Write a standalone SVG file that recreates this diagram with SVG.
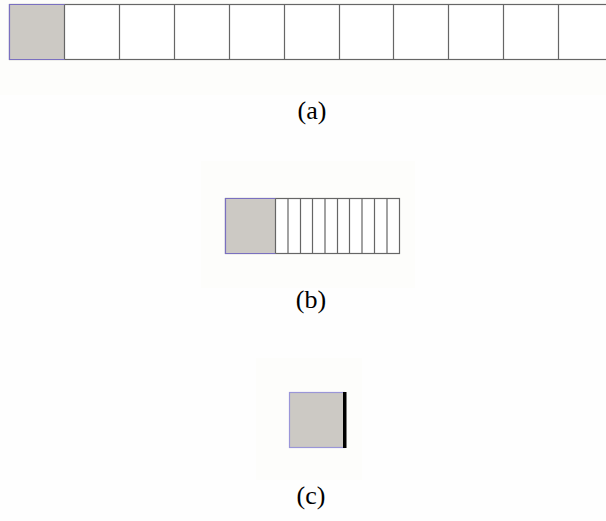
<svg xmlns="http://www.w3.org/2000/svg" width="606" height="521" viewBox="0 0 606 521">
<style>
.cell{fill:#ffffff;stroke:#666666;stroke-width:1.2}
.gray{fill:#ccc9c4}
.blue{fill:none;stroke:#7a70c0;stroke-width:1.2}
.lbl{font-family:"Liberation Serif","DejaVu Serif",serif;font-size:26px;fill:#000;text-anchor:middle}
.halo{fill:#fdfdfb}
</style>
<rect width="606" height="521" fill="#fefefe"/>
<g id="panel-a">
<rect class="halo" x="0" y="0" width="606" height="95"/>
<rect class="cell" x="9.5" y="4.5" width="610" height="55"/>
<rect class="gray" x="9.5" y="4.5" width="55" height="55"/>
<path class="cell" fill="none" d="M64.5 4.5V59.5M119.5 4.5V59.5M174.5 4.5V59.5M229.5 4.5V59.5M284.5 4.5V59.5M339.5 4.5V59.5M393.5 4.5V59.5M448.5 4.5V59.5M503.5 4.5V59.5M558.5 4.5V59.5"/>
<path class="blue" d="M64.5 59.5H9.5V4.5H64.5"/>
<text class="lbl" x="312" y="119">(a)</text>
</g>
<g id="panel-b">
<rect class="halo" x="201" y="161" width="214" height="127"/>
<rect class="cell" x="225.5" y="198.5" width="174" height="55"/>
<rect class="gray" x="225.5" y="198.5" width="50" height="55"/>
<path class="blue" d="M275.5 253.5H225.5V198.5H275.5"/>
<path class="cell" fill="none" d="M275.5 198.5V253.5M288 198.5V253.5M300.5 198.5V253.5M312.5 198.5V253.5M325 198.5V253.5M337.5 198.5V253.5M349.5 198.5V253.5M362 198.5V253.5M374.5 198.5V253.5M387 198.5V253.5"/>
<text class="lbl" x="311" y="308">(b)</text>
</g>
<g id="panel-c">
<rect class="halo" x="256" y="358" width="106" height="122"/>
<rect x="289.5" y="392.5" width="55" height="55" fill="#ccc9c4" stroke="#9a96d8" stroke-width="1.2"/>
<rect x="343" y="392" width="3.5" height="56" fill="#000"/>
<text class="lbl" x="311" y="504">(c)</text>
</g>
</svg>
